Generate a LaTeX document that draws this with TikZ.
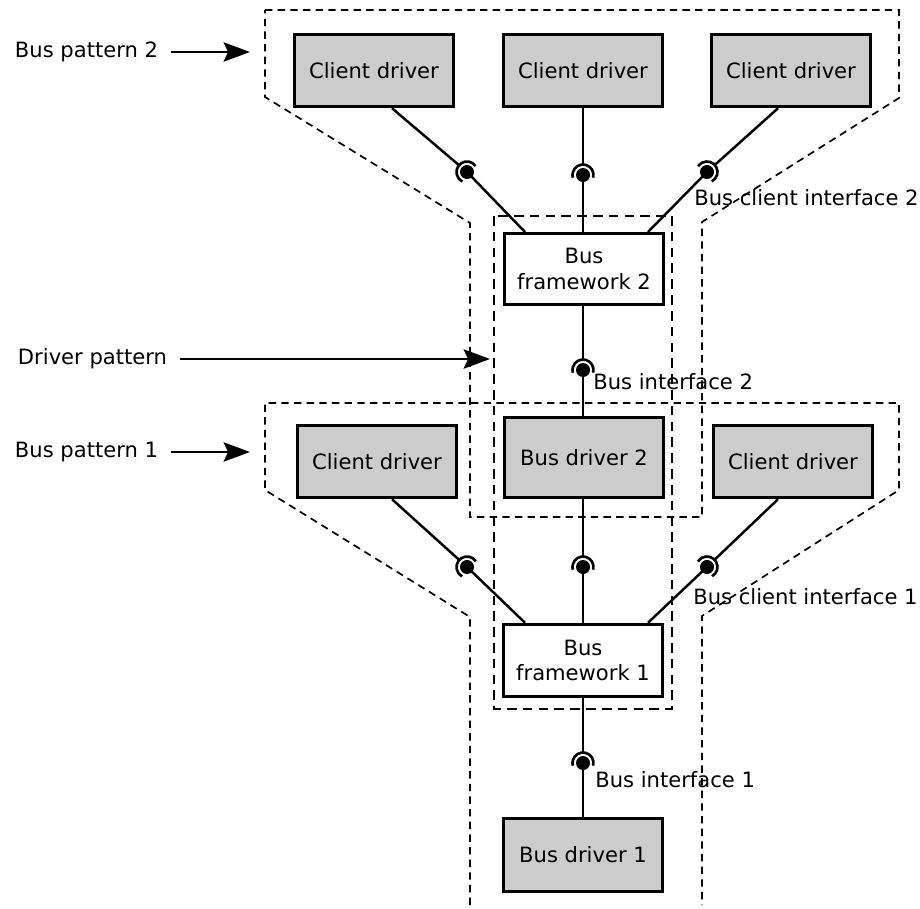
\documentclass[tikz,border=0pt]{standalone}
\usepackage{fontspec}
\setmainfont{DejaVu Sans}
\usetikzlibrary{calc,arrows.meta}
\definecolor{boxgray}{HTML}{CCCCCC}
\begin{document}
\begin{tikzpicture}[x=0.02cm,y=0.02cm,
  font=\fontsize{12}{14.4}\selectfont,
  box/.style={draw,line width=1.7pt,minimum width=3.18cm,minimum height=1.45cm,
    align=center,inner sep=0pt},
  greybox/.style={box,fill=boxgray},
  plainbox/.style={box,fill=white},
  conn/.style={line width=1.4pt},
  group/.style={dash pattern=on 4.2pt off 3pt,line width=0.95pt},
  lbl/.style={inner sep=0pt,outer xsep=0.26cm,anchor=west},
  ilbl/.style={inner sep=0pt,anchor=west},
  pointer/.style={line width=1.3pt,-{Stealth[length=15pt,width=11pt,inset=2.5pt]}},
  iface/.pic={
    \fill (0,0) circle[radius=7];
    \draw[line width=1.5pt] (-15:10.5) arc[start angle=-15,end angle=195,radius=10.5];
  }]
\useasboundingbox (0,0) rectangle (920,-909);

% pattern outlines
\draw[group] (265,-10) -- (899,-10) -- (899,-98) -- (702,-222) -- (702,-517)
  -- (470,-517) -- (470,-223) -- (265,-97) -- cycle;
\draw[group] (470,-905) -- (470,-617) -- (265,-490) -- (265,-403) -- (899,-403)
  -- (899,-490) -- (702,-616) -- (702,-905);
\draw[group,dash pattern=on 5.5pt off 3.5pt,line width=1.05pt] (494,-216) rectangle (672,-709);

% components
\node[greybox] (cd21) at (374,-70.5) {Client driver};
\node[greybox] (cd22) at (583,-70.5) {Client driver};
\node[greybox] (cd23) at (791,-70.5) {Client driver};
\node[plainbox,minimum height=1.42cm] (bf2) at (584,-269) {Bus\\framework 2};
\node[greybox,minimum height=1.6cm] (bd2) at (584,-457.5) {Bus driver 2};
\node[greybox] (cd11) at (377,-461.5) {Client driver};
\node[greybox] (cd13) at (793,-461.5) {Client driver};
\node[plainbox] (bf1) at (583,-660.5) {Bus\\framework 1};
\node[greybox,minimum height=1.47cm] (bd1) at (583,-855) {Bus driver 1};

% interface points (ball centres)
\coordinate (i2l) at (467,-172);
\coordinate (i2m) at (583,-175);
\coordinate (i2r) at (707,-172);
\coordinate (ib2) at (583,-370);
\coordinate (i1l) at (467,-567);
\coordinate (i1m) at (583,-567);
\coordinate (i1r) at (707,-567);
\coordinate (ib1) at (583,-763);

% bus pattern 2 connections
\draw[conn] ($(cd21.south)+(18,0)$) -- ($(i2l)+(139.5:10.5)$);
\draw[conn] (i2l) -- ($(bf2.north)+(-59,0)$);
\draw[conn] (cd22.south) -- ($(i2m)+(90:10.5)$);
\draw[conn] (i2m) -- (i2m |- bf2.north);
\draw[conn] ($(cd23.south)+(-13,0)$) -- ($(i2r)+(42:10.5)$);
\draw[conn] (i2r) -- ($(bf2.north)+(64,0)$);
\pic[rotate=49.5] at (i2l) {iface};
\pic at (i2m) {iface};
\pic[rotate=-48] at (i2r) {iface};

% driver pattern connection
\draw[conn] (ib2 |- bf2.south) -- ($(ib2)+(90:10.5)$);
\draw[conn] (ib2) -- (ib2 |- bd2.north);
\pic at (ib2) {iface};

% bus pattern 1 connections
\draw[conn] ($(cd11.south)+(15,0)$) -- ($(i1l)+(137.8:10.5)$);
\draw[conn] (i1l) -- ($(bf1.north)+(-58,0)$);
\draw[conn] (i1m |- bd2.south) -- ($(i1m)+(90:10.5)$);
\draw[conn] (i1m) -- (i1m |- bf1.north);
\draw[conn] ($(cd13.south)+(-15,0)$) -- ($(i1r)+(43.8:10.5)$);
\draw[conn] (i1r) -- ($(bf1.north)+(65,0)$);
\pic[rotate=47.8] at (i1l) {iface};
\pic at (i1m) {iface};
\pic[rotate=-46.2] at (i1r) {iface};

\draw[conn] (bf1.south) -- ($(ib1)+(90:10.5)$);
\draw[conn] (ib1) -- (bd1.north);
\pic at (ib1) {iface};

% interface labels
\node[ilbl] (l2c) at (694,-198) {Bus client interface 2};
\node[ilbl] (l2b) at (593,-382) {Bus interface 2};
\node[ilbl] (l1c) at (693,-597) {Bus client interface 1};
\node[ilbl] (l1b) at (595,-780) {Bus interface 1};

% pattern labels with pointers
\node[lbl] (pb2) at (2,-52) {Bus pattern 2};
\node[lbl] (pdr) at (5,-359) {Driver pattern};
\node[lbl] (pb1) at (2,-452) {Bus pattern 1};
\coordinate (pb2tip) at (250,-52);
\coordinate (pdrtip) at (490,-359);
\coordinate (pb1tip) at (250,-452);
\draw[pointer] (pb2.east) -- (pb2.east -| pb2tip);
\draw[pointer] (pdr.east) -- (pdr.east -| pdrtip);
\draw[pointer] (pb1.east) -- (pb1.east -| pb1tip);
\end{tikzpicture}
\end{document}
